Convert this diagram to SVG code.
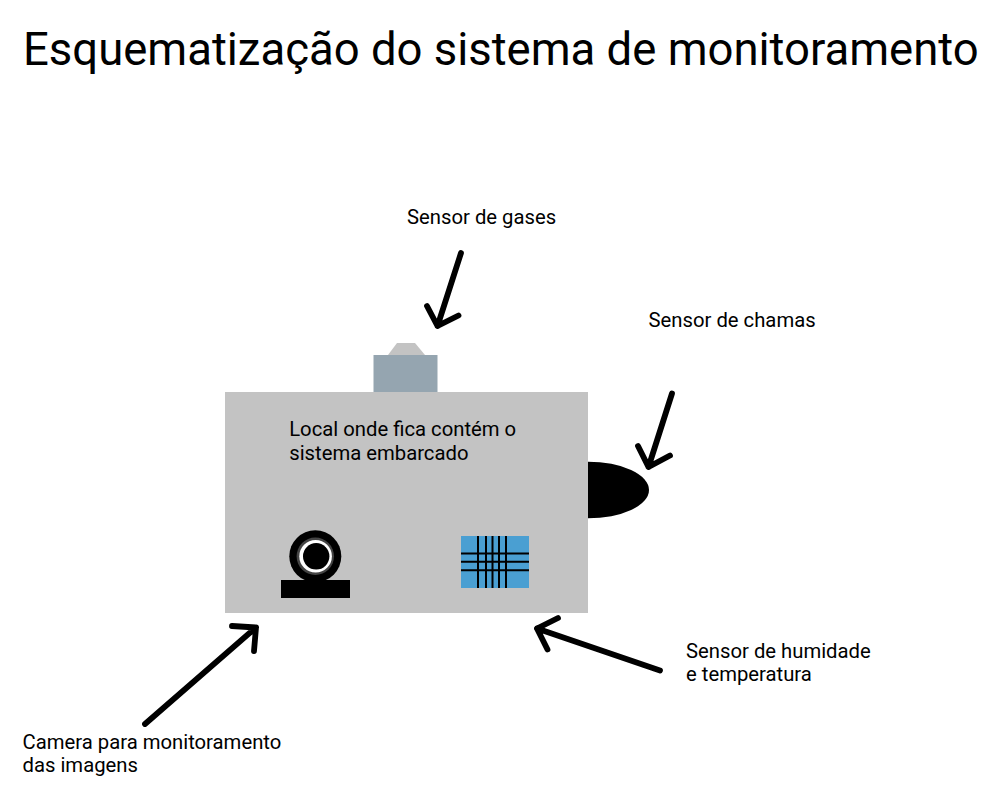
<svg xmlns="http://www.w3.org/2000/svg" width="985" height="801" viewBox="0 0 985 801">
<style>
text{font-family:Roboto,"Liberation Sans",sans-serif;fill:#000}
.t{font-size:20.27px}
.title{font-size:45.47px}
.a{fill:none;stroke:#000;stroke-width:5.8;stroke-linecap:round;stroke-linejoin:round}
.g{fill:none;stroke:#000;stroke-width:2}
</style>
<rect width="985" height="801" fill="#fff"/>
<text id="title" class="title" x="23" y="65">Esquematização do sistema de monitoramento</text>
<g id="housing">
<rect x="225" y="392" width="363" height="221" fill="#c3c3c3"/>
<text class="t" x="289.200" y="436">Local onde fica contém o</text>
<text class="t" x="289.200" y="460">sistema embarcado</text>
</g>
<g id="gas-sensor">
<path d="M397 343H415L425 355H388Z" fill="#c3c3c3"/>
<rect x="373.500" y="355" width="64" height="37" fill="#95a5b0"/>
<text class="t" x="407" y="224">Sensor de gases</text>
</g>
<g id="flame-sensor">
<path d="M588 461.700A61 28.300 0 0 1 588 518.300Z" fill="#000"/>
<text class="t" x="648.500" y="327">Sensor de chamas</text>
</g>
<g id="camera">
<circle cx="315.300" cy="556.300" r="26" fill="#000"/>
<circle cx="315.300" cy="556.300" r="18.700" fill="#444"/>
<circle cx="315.600" cy="556.300" r="16.300" fill="#fff"/>
<circle cx="316.200" cy="556.300" r="13.200" fill="#000"/>
<rect x="281" y="580" width="69" height="18" fill="#000"/>
<text class="t" x="22.500" y="749">Camera para monitoramento</text>
<text class="t" x="22.500" y="772">das imagens</text>
</g>
<g id="humidity-sensor">
<rect x="461" y="536" width="68" height="52" fill="#4a9fd2"/>
<path class="g" d="M478 536V588M486 536V588M492.500 536V588M499 536V588M506 536V588M461 553.500H529M461 561.700H529M461 570.300H529"/>
<text class="t" x="686" y="658">Sensor de humidade</text>
<text class="t" x="686" y="681">e temperatura</text>
</g>
<g id="connectors">
<path class="a" d="M461 253L437.500 326M427 306L437.500 326L458.500 315.500"/>
<path class="a" d="M672 393.500L648.500 467M638 446L648.500 467L670 455.500"/>
<path class="a" d="M145 724L256 627.500M232 626L256 627.500L254 651"/>
<path class="a" d="M660 670.500L537 628.500M558 618L537 628.500L547.500 649.500"/>
</g>
</svg>
